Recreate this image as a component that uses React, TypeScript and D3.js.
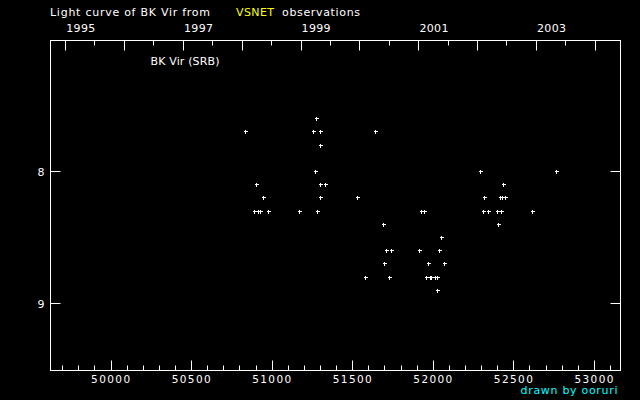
import React from "react";
import * as d3 from "d3";

// Observations: Julian Date - 2400000 and visual magnitude
const obsJD = [
  50842, 50898, 50911, 50923, 50935, 50954, 50985, 51178, 51264, 51277,
  51283, 51289, 51308, 51308, 51308, 51308, 51339, 51538, 51587, 51649,
  51699, 51705, 51718, 51736, 51749, 51922, 51935, 51953, 51966, 51978,
  51989, 51997, 52022, 52030, 52034, 52046, 52055, 52059, 52077, 52301,
  52320, 52326, 52351, 52406, 52413, 52425, 52431, 52437, 52444, 52456,
  52624, 52773,
];
const obsMag = [
  7.7, 8.3, 8.1, 8.3, 8.3, 8.2, 8.3, 8.3, 7.7, 8.0,
  7.6, 8.3, 7.7, 7.8, 8.1, 8.2, 8.1, 8.2, 8.8, 7.7,
  8.4, 8.7, 8.6, 8.8, 8.6, 8.6, 8.3, 8.3, 8.8, 8.7,
  8.8, 8.8, 8.8, 8.8, 8.9, 8.6, 8.5, 8.5, 8.7, 8.0,
  8.3, 8.2, 8.3, 8.3, 8.4, 8.2, 8.3, 8.2, 8.1, 8.2,
  8.3, 8.0,
];
const jdTicks = d3.range(49700, 53101, 100);
const jdLabels = [50000, 50500, 51000, 51500, 52000, 52500, 53000];
const magTicks = [8, 9];
const years = d3.range(1995, 2005);
const yearLabels = [1995, 1997, 1999, 2001, 2003];
const titleParts = ["Light curve of BK Vir from", "VSNET", "observations"];
const starLabel = "BK Vir (SRB)";
const credit = "drawn by ooruri";

const W = 640;
const H = 400;
const L = 50.5, R = 620.5, T = 40.5, B = 370.5;

const x = d3.scaleLinear().domain([49627, 53165]).range([L, R]);
const y = d3.scaleLinear().domain([7, 9.5]).range([39.5, 369.5]);

const toJD = (yr: number, mo: number) =>
  Date.UTC(yr, mo, 1) / 86400000 + 2440587.5 - 2400000;

const font = "'DejaVu Sans', sans-serif";

export default function App() {
  const xMin = x.domain()[0], xMax = x.domain()[1];
  const halfYears = years
    .map((yr) => toJD(yr, 6))
    .filter((j) => j >= xMin && j <= xMax);
  return (
    <svg
      width={W}
      height={H}
      style={{ position: "absolute", left: 0, top: 0, background: "#000" }}
    >
      <rect x={0} y={0} width={W} height={H} fill="#000" />
      {/* title */}
      <text x={50} y={16} fill="#fff" fontFamily={font} fontSize={11} textLength={160} lengthAdjust="spacing">
        {titleParts[0]}
      </text>
      <text x={236} y={16} fill="#ffff00" fontFamily={font} fontSize={11} textLength={38} lengthAdjust="spacing">
        {titleParts[1]}
      </text>
      <text x={282} y={16} fill="#fff" fontFamily={font} fontSize={11} textLength={78} lengthAdjust="spacing">
        {titleParts[2]}
      </text>
      {/* frame */}
      <rect x={L} y={T} width={R - L} height={B - T} fill="none" stroke="#fff" strokeWidth={1} />
      {/* top axis: years */}
      {years.map((yr) => {
        const px = Math.round(x(toJD(yr, 0))) + 0.5;
        return <line key={"y" + yr} x1={px} x2={px} y1={T} y2={T + 10} stroke="#fff" />;
      })}
      {halfYears.map((j) => {
        const px = Math.round(x(j)) + 0.5;
        return <line key={"h" + j} x1={px} x2={px} y1={T} y2={T + 5} stroke="#fff" />;
      })}
      {yearLabels.map((yr) => (
        <text key={"yl" + yr} x={x(toJD(yr, 0)) + 1} y={32} fill="#fff" fontFamily={font} fontSize={11} textLength={29} lengthAdjust="spacing">
          {yr}
        </text>
      ))}
      {/* bottom axis: JD */}
      {jdTicks.map((j) => {
        const px = Math.round(x(j)) + 0.5;
        const major = j % 500 === 0;
        return <line key={"j" + j} x1={px} x2={px} y1={B} y2={B - (major ? 10 : 5)} stroke="#fff" />;
      })}
      {jdLabels.map((j) => (
        <text key={"jl" + j} x={x(j) - 19.5} y={382.5} fill="#fff" fontFamily={font} fontSize={10.5} textLength={39} lengthAdjust="spacing">
          {j}
        </text>
      ))}
      {/* magnitude ticks */}
      {magTicks.map((m) => {
        const py = Math.round(y(m) - 0.5) + 0.5;
        return (
          <g key={"m" + m}>
            <line x1={L} x2={L + 10} y1={py} y2={py} stroke="#fff" />
            <line x1={R - 10} x2={R} y1={py} y2={py} stroke="#fff" />
            <text x={44.5} y={py + 4} fill="#fff" fontFamily={font} fontSize={11} textAnchor="end">
              {m}
            </text>
          </g>
        );
      })}
      {/* star label */}
      <text x={150.5} y={65} fill="#fff" fontFamily={font} fontSize={11} textLength={69} lengthAdjust="spacing">
        {starLabel}
      </text>
      {/* data */}
      {obsJD.map((j, i) => {
        const cx = Math.round(x(j));
        const cy = Math.round(y(obsMag[i]) - 0.5);
        return (
          <g key={"p" + i} fill="#fff">
            <rect x={cx - 2} y={cy} width={4} height={1} />
            <rect x={cx - 1} y={cy - 1} width={1} height={4} />
          </g>
        );
      })}
      {/* credit */}
      <text x={520.5} y={394} fill="#00ffff" fontFamily={font} fontSize={11} textLength={97} lengthAdjust="spacing">
        {credit}
      </text>
    </svg>
  );
}
